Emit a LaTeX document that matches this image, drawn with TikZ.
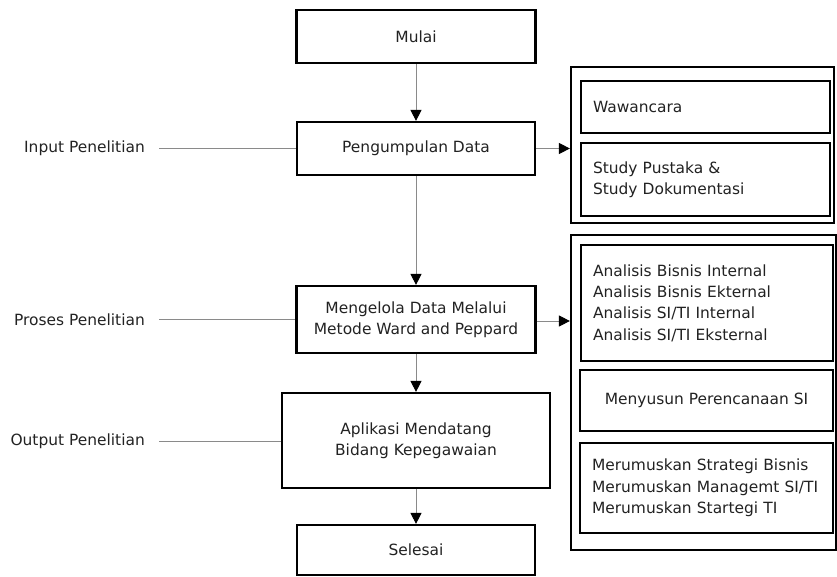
\documentclass[tikz,border=0pt]{standalone}
\usepackage{fontspec}
\setmainfont{DejaVu Sans}
\usetikzlibrary{arrows.meta}
\definecolor{txt}{HTML}{222222}
\definecolor{conn}{HTML}{8A8A8A}
\begin{document}
\begin{tikzpicture}[x=1bp,y=-1bp,
  box/.style={draw=black,line width=2.2bp,fill=white,inner sep=0pt,align=center,text=txt,
    font=\fontsize{15.5}{21.5}\selectfont},
  lbox/.style={box,align=left,inner xsep=12bp,inner ysep=0pt},
  group/.style={draw=black,line width=2.2bp,inner sep=0pt},
  lbl/.style={text=txt,inner sep=0pt,font=\fontsize{15.5}{21.5}\selectfont},
  arr/.style={draw=conn,line width=1bp,-{Triangle[length=11bp,width=11bp,color=black]}},
  thin/.style={draw=conn,line width=1bp}]
\useasboundingbox (0,0) rectangle (837,577);
% main column
\node[box,minimum width=239bp,minimum height=53bp] (mulai) at (416,36.5) {Mulai};
\node[box,minimum width=238bp,minimum height=53bp] (peng) at (416,148.5) {Pengumpulan Data};
\node[box,minimum width=239bp,minimum height=67bp] (olah) at (416,319.5) {Mengelola Data Melalui\\Metode Ward and Peppard};
\node[box,minimum width=268bp,minimum height=95bp] (apl) at (416,440.5) {Aplikasi Mendatang\\Bidang Kepegawaian};
\node[box,minimum width=238bp,minimum height=50bp] (sel) at (416,550) {Selesai};
% right groups
\node[group,minimum width=263bp,minimum height=156bp] (g1) at (702.5,145) {};
\node[lbox,text width=225bp,minimum height=52bp] (waw) at (705.5,107) {Wawancara};
\node[lbox,text width=225bp,minimum height=73bp] (stu) at (705.5,179.5) {Study Pustaka \&\\Study Dokumentasi};
\node[group,minimum width=265bp,minimum height=315bp] (g2) at (703.5,392.5) {};
\node[lbox,text width=228bp,minimum height=116bp] (ana) at (707,303) {Analisis Bisnis Internal\\Analisis Bisnis Ekternal\\Analisis SI/TI Internal\\Analisis SI/TI Eksternal};
\node[box,minimum width=253bp,minimum height=61bp] (susun) at (706.5,400.5) {Menyusun Perencanaan SI};
\node[lbox,text width=229bp,minimum height=90bp] (rum) at (706.5,488) {Merumuskan Strategi Bisnis\\Merumuskan Managemt SI/TI\\Merumuskan Startegi TI};
% left labels
\node[lbl,anchor=east] (lin) at (145,148.5) {Input Penelitian};
\node[lbl,anchor=east] (lpro) at (145,319.5) {Proses Penelitian};
\node[lbl,anchor=east] (lout) at (145,441) {Output Penelitian};
\draw[thin] ([xshift=14bp]lin.east) -- (lin.east -| peng.west);
\draw[thin] ([xshift=14bp]lpro.east) -- (lpro.east -| olah.west);
\draw[thin] ([xshift=14bp]lout.east) -- (lout.east -| apl.west);
% connectors
\draw[arr] (mulai.south) -- (peng.north);
\draw[arr] (peng.south) -- (olah.north);
\draw[arr] (olah.south) -- (apl.north);
\draw[arr] (apl.south) -- (sel.north);
\draw[arr] (peng.east) -- (peng.east -| g1.west);
\draw[arr] ([yshift=-1.5bp]olah.east) -- ([yshift=-1.5bp]olah.east -| g2.west);
\end{tikzpicture}
\end{document}
